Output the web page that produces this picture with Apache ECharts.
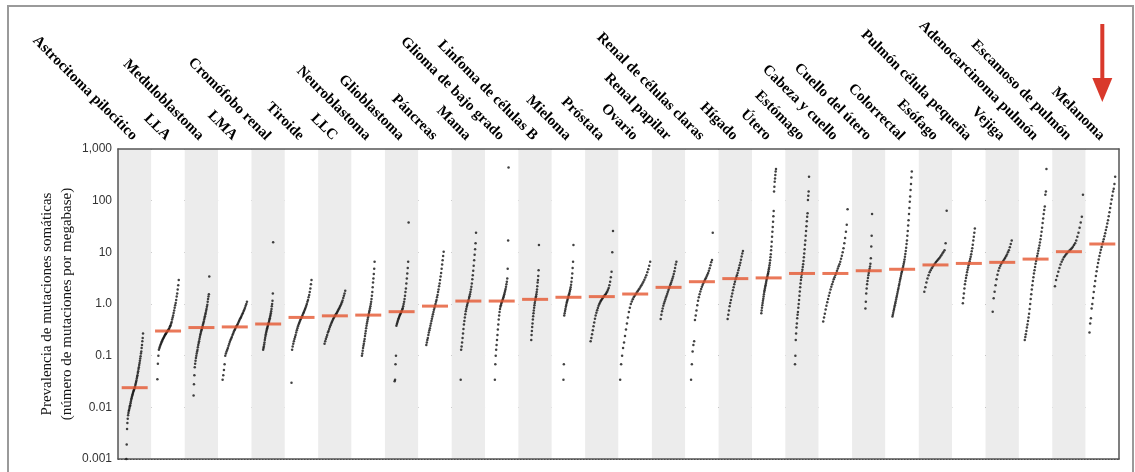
<!DOCTYPE html>
<html><head><meta charset="utf-8">
<script src="https://cdn.jsdelivr.net/npm/echarts@6/dist/echarts.min.js"></script>
<style>html,body{margin:0;padding:0;background:#fff}#c{width:1135px;height:472px}</style>
</head><body><div id="c"></div>
<script>
// ---------- DATA ----------
const categories = [
  'Astrocitoma pilocítico','LLA','Meduloblastoma','LMA','Cromófobo renal','Tiroide','LLC',
  'Neuroblastoma','Glioblastoma','Páncreas','Mama','Glioma de bajo grado','Linfoma de células B',
  'Mieloma','Próstata','Ovario','Renal papilar','Renal de células claras','Hígado','Útero',
  'Estómago','Cabeza y cuello','Cuello del útero','Colorrectal','Esófago','Pulmón célula pequeña',
  'Vejiga','Adenocarcinoma pulmón','Escamoso de pulmón','Melanoma'
];
const yTickValues = [0.001, 0.01, 0.1, 1, 10, 100, 1000];
const yTickLabels = ['0.001', '0.01', '0.1', '1.0', '10', '100', '1,000'];
const yAxisTitle = 'Prevalencia de mutaciones somáticas\n(número de mutaciones por megabase)';

const medians = [0.024, 0.30, 0.35, 0.36, 0.41, 0.55, 0.59, 0.61, 0.71, 0.91,
  1.14, 1.14, 1.23, 1.35, 1.39, 1.56, 2.1, 2.7, 3.1, 3.2,
  3.9, 3.9, 4.4, 4.7, 5.7, 6.1, 6.4, 7.4, 10.3, 14.5];

const astrocitoma = [0.001,0.0019,0.0038,0.005,0.006,0.007,0.0078,0.0085,0.009,0.0097,0.0105,0.011,0.012,0.013,0.014,0.015,0.016,0.017,0.018,0.019,0.02,0.021,0.022,0.023,0.024,0.025,0.027,0.029,0.031,0.033,0.036,0.039,0.042,0.046,0.05,0.055,0.06,0.066,0.072,0.08,0.088,0.097,0.11,0.12,0.14,0.16,0.19,0.22,0.27];
const lla = [0.035,0.07,0.1,0.13,0.14,0.15,0.16,0.17,0.18,0.19,0.2,0.21,0.22,0.23,0.24,0.25,0.26,0.27,0.28,0.29,0.3,0.31,0.32,0.33,0.35,0.37,0.39,0.42,0.45,0.5,0.55,0.6,0.67,0.75,0.85,0.95,1.05,1.2,1.4,1.6,1.9,2.3,2.9];
const meduloblastoma = [0.017,0.028,0.042,0.06,0.07,0.08,0.09,0.1,0.11,0.12,0.13,0.145,0.16,0.175,0.19,0.21,0.23,0.25,0.27,0.29,0.31,0.33,0.35,0.37,0.4,0.43,0.46,0.5,0.54,0.58,0.63,0.68,0.74,0.8,0.88,0.97,1.1,1.25,1.4,1.55,3.4];
const lma = [0.034,0.042,0.053,0.068,0.1,0.11,0.12,0.13,0.14,0.155,0.17,0.185,0.2,0.215,0.23,0.25,0.27,0.29,0.31,0.33,0.35,0.37,0.39,0.41,0.44,0.47,0.5,0.53,0.56,0.6,0.64,0.68,0.73,0.78,0.85,0.93,1.0,1.1];
const cromofobo = [0.13,0.14,0.15,0.165,0.18,0.2,0.22,0.24,0.26,0.28,0.3,0.32,0.34,0.36,0.38,0.4,0.42,0.44,0.47,0.5,0.53,0.57,0.61,0.66,0.72,0.8,0.9,1.0,1.15,1.6,15.6];
const tiroide = [0.03,0.13,0.15,0.17,0.19,0.21,0.23,0.25,0.28,0.31,0.34,0.37,0.4,0.43,0.46,0.49,0.52,0.55,0.58,0.62,0.66,0.7,0.75,0.8,0.86,0.93,1.0,1.1,1.2,1.35,1.5,1.7,2.0,2.4,2.9];
const llc = [0.17,0.19,0.21,0.23,0.25,0.28,0.3,0.33,0.36,0.39,0.42,0.45,0.48,0.51,0.54,0.57,0.6,0.63,0.66,0.7,0.74,0.78,0.83,0.88,0.94,1.0,1.08,1.17,1.3,1.45,1.6,1.8];
const neuroblastoma = [0.1,0.11,0.125,0.14,0.155,0.17,0.19,0.21,0.24,0.27,0.3,0.34,0.38,0.42,0.46,0.5,0.55,0.6,0.65,0.7,0.76,0.83,0.9,1.0,1.1,1.25,1.45,1.7,2.1,2.6,3.1,3.8,4.8,6.6];
const glioblastoma = [0.032,0.034,0.068,0.1,0.38,0.41,0.44,0.47,0.5,0.53,0.56,0.59,0.62,0.65,0.68,0.71,0.74,0.78,0.83,0.9,1.0,1.1,1.25,1.45,1.7,2.0,2.5,3.1,3.9,5.0,6.6,38];
const pancreas = [0.16,0.18,0.2,0.22,0.25,0.28,0.31,0.34,0.38,0.42,0.47,0.52,0.57,0.63,0.7,0.77,0.85,0.93,1.0,1.1,1.2,1.35,1.5,1.7,1.9,2.2,2.5,2.9,3.4,4.0,4.8,5.8,7.0,8.5,10.3];
const mama = [0.034,0.13,0.15,0.18,0.22,0.27,0.33,0.4,0.47,0.55,0.63,0.72,0.8,0.88,0.96,1.04,1.12,1.2,1.3,1.42,1.55,1.7,1.9,2.15,2.5,3.0,3.6,4.4,5.5,7.0,9.0,11.5,15,24];
const glioma = [0.034,0.068,0.1,0.13,0.16,0.2,0.25,0.32,0.4,0.5,0.6,0.7,0.8,0.88,0.95,1.02,1.08,1.14,1.2,1.27,1.35,1.45,1.55,1.67,1.8,1.95,2.15,2.4,2.7,3.1,4.8,17,440];
const linfomaB = [0.2,0.25,0.3,0.36,0.42,0.5,0.58,0.66,0.75,0.85,0.95,1.05,1.15,1.23,1.32,1.42,1.55,1.7,1.9,2.2,2.6,2.9,3.5,4.5,13.8];
const mieloma = [0.034,0.068,0.6,0.66,0.73,0.8,0.88,0.96,1.04,1.12,1.2,1.28,1.36,1.45,1.55,1.65,1.78,1.92,2.1,2.35,2.7,3.2,3.9,5.0,6.6,13.8];
const prostata = [0.19,0.22,0.26,0.31,0.37,0.44,0.52,0.6,0.68,0.76,0.84,0.92,1.0,1.07,1.14,1.2,1.26,1.32,1.38,1.44,1.5,1.57,1.65,1.75,1.88,2.05,2.3,2.7,3.3,4.2,10,26];
const ovario = [0.034,0.068,0.1,0.14,0.18,0.24,0.32,0.42,0.55,0.7,0.85,1.0,1.12,1.24,1.35,1.45,1.55,1.65,1.76,1.88,2.0,2.15,2.3,2.5,2.7,2.95,3.25,3.6,4.1,4.7,5.5,6.6];
const renalPapilar = [0.51,0.62,0.72,0.82,0.92,1.02,1.12,1.22,1.33,1.45,1.58,1.72,1.88,2.05,2.2,2.4,2.6,2.85,3.1,3.4,3.8,4.3,5.0,5.8,6.6];
const renalClaras = [0.034,0.068,0.12,0.16,0.19,0.49,0.6,0.75,0.95,1.15,1.35,1.55,1.75,1.95,2.15,2.35,2.55,2.75,2.95,3.15,3.4,3.7,4.0,4.4,4.9,5.6,6.4,7.1,24];
const higado = [0.51,0.62,0.75,0.9,1.05,1.2,1.4,1.6,1.85,2.1,2.4,2.7,3.0,3.3,3.6,4.0,4.5,5.0,5.6,6.3,7.2,8.3,9.5,10.6];
const utero = [0.66,0.75,0.85,0.95,1.05,1.15,1.27,1.4,1.55,1.7,1.85,2.0,2.15,2.3,2.5,2.7,2.9,3.1,3.3,3.5,3.75,4.0,4.3,4.7,5.1,5.6,6.2,7.0,8.0,9.2,11,13,16,20,25,31,39,50,63,150,186,233,270,314,365,410];
const estomago = [0.068,0.1,0.2,0.27,0.35,0.42,0.53,0.62,0.7,0.85,1.0,1.2,1.45,1.75,2.1,2.5,2.9,3.3,3.7,4.1,4.6,5.2,5.9,6.8,8.0,9.5,11.5,14,17,21,26,32,40,49,57,103,125,150,290];
const cabezaCuello = [0.46,0.55,0.65,0.78,0.92,1.08,1.25,1.45,1.65,1.9,2.15,2.4,2.7,3.0,3.3,3.65,4.0,4.4,4.85,5.35,5.9,6.6,7.5,8.6,10,12,15,19,25,34,68];
const cuelloUtero = [0.82,1.1,1.6,2.0,2.4,2.8,3.2,3.6,4.0,4.4,4.8,5.3,6.0,7.7,13,21,55];
const colorrectal = [0.57,0.62,0.68,0.74,0.8,0.87,0.95,1.03,1.12,1.22,1.33,1.45,1.58,1.72,1.88,2.05,2.25,2.45,2.7,2.95,3.2,3.5,3.8,4.1,4.4,4.7,5.1,5.5,6.0,6.6,7.3,8.2,9.3,10.6,12.3,14.5,17,21,26,33,42,55,72,95,120,160,210,280,365];
const esofago = [1.73,2.1,2.6,3.1,3.6,4.1,4.5,4.9,5.3,5.7,6.1,6.5,6.9,7.3,7.7,8.2,8.8,9.5,10.2,11,15,64];
const pulmonPequena = [1.03,1.3,1.6,2.0,2.4,2.8,3.2,3.6,4.1,4.6,5.1,5.6,6.1,6.7,7.4,8.2,9.2,10.5,12,14,17,20,24,29];
const vejiga = [0.71,1.29,1.73,2.3,3.0,3.7,4.4,5.0,5.5,6.0,6.4,6.8,7.3,7.8,8.4,9.1,10,11,12.5,14.5,17];
const adenoPulmon = [0.2,0.23,0.26,0.3,0.35,0.4,0.47,0.55,0.65,0.8,1.0,1.25,1.55,1.9,2.3,2.8,3.3,3.9,4.5,5.2,6.0,6.8,7.6,8.5,9.5,10.7,12,13.5,15.5,18,21,25,30,37,45,55,66,77,130,150,410];
const escamosoPulmon = [2.2,2.9,3.5,4.2,5.0,5.8,6.6,7.3,8.0,8.6,9.2,9.8,10.3,10.8,11.4,12,12.8,13.8,15,17,20,24,30,38,49,130];
const melanoma = [0.28,0.42,0.53,0.82,1.0,1.3,1.7,2.2,2.8,3.5,4.3,5.2,6.2,7.3,8.5,9.8,11.2,12.7,14.3,16,18,20.5,23.5,27,31,36,42,50,60,72,87,105,125,150,170,210,290];

const samples = [astrocitoma, lla, meduloblastoma, lma, cromofobo, tiroide, llc, neuroblastoma,
  glioblastoma, pancreas, mama, glioma, linfomaB, mieloma, prostata, ovario, renalPapilar,
  renalClaras, higado, utero, estomago, cabezaCuello, cuelloUtero, colorrectal, esofago,
  pulmonPequena, vejiga, adenoPulmon, escamosoPulmon, melanoma];

// ---------- LAYOUT (horizontal width of each dot cloud, in column units) ----------
const cloudWidth = [0.5,0.64,0.47,0.73,0.3,0.6,0.62,0.38,0.42,0.52,0.46,0.41,0.23,0.3,0.67,
  0.9,0.47,0.65,0.46,0.44,0.42,0.73,0.2,0.58,0.67,0.36,0.57,0.65,0.84,0.77];

// ---------- BUILD ----------
const dotData = [];
samples.forEach((vals, i) => {
  const sorted = vals.slice().sort((a, b) => a - b);
  const n = sorted.length;
  const w = cloudWidth[i];
  sorted.forEach((v, j) => {
    const x = i - w / 2 + (n > 1 ? w * j / (n - 1) : w / 2);
    dotData.push([x, v]);
  });
});
const medianData = medians.map((m, i) => [i, m]);

const chart = echarts.init(document.getElementById('c'), null, {renderer: 'canvas'});
const serif = '"Liberation Serif","DejaVu Serif",serif';
const sans = '"Liberation Sans","DejaVu Sans",sans-serif';

function tickLabel(v) {
  const k = Math.round(Math.log10(v));
  const idx = yTickValues.findIndex(t => Math.round(Math.log10(t)) === k);
  return idx >= 0 ? yTickLabels[idx] : '';
}

chart.setOption({
  animation: false,
  backgroundColor: '#fff',
  grid: {left: 118, right: 16, top: 149, bottom: 13, containLabel: false},
  xAxis: [
    {
      type: 'category', data: categories, position: 'top', boundaryGap: true,
      axisLine: {show: true, lineStyle: {color: '#555', width: 1.5}},
      axisTick: {show: false},
      axisLabel: {interval: 0, rotate: 45, margin: 11, fontFamily: serif, fontSize: 15, fontWeight: 'bold', color: '#000'},
      splitLine: {show: false},
      splitArea: {show: true, interval: 0, areaStyle: {color: ['#ececec', '#ffffff']}}
    },
    {
      type: 'value', min: -0.5, max: 29.5, position: 'bottom',
      axisLine: {show: true, onZero: false, lineStyle: {color: '#555', width: 1.5}},
      axisTick: {show: false}, axisLabel: {show: false}, splitLine: {show: false}
    }
  ],
  yAxis: [
    {
      type: 'log', logBase: 10, min: 0.001, max: 1000, position: 'left',
      name: yAxisTitle, nameLocation: 'middle', nameGap: 41, nameMoveOverlap: false,
      nameTextStyle: {fontFamily: serif, fontSize: 15, lineHeight: 20, color: '#111'},
      axisLine: {show: true, onZero: false, lineStyle: {color: '#555', width: 1.5}},
      axisTick: {show: false},
      axisLabel: {formatter: tickLabel, fontFamily: sans, fontSize: 12, color: '#333', margin: 6},
      splitLine: {show: true, lineStyle: {color: '#333', width: 1, type: [1.5, 1.5]}}
    },
    {
      type: 'log', logBase: 10, min: 0.001, max: 1000, position: 'right',
      axisLine: {show: true, onZero: false, lineStyle: {color: '#555', width: 1.5}},
      axisTick: {show: false}, axisLabel: {show: false}, splitLine: {show: false}
    }
  ],
  series: [
    {
      type: 'scatter', xAxisIndex: 1, yAxisIndex: 0, data: dotData,
      symbol: 'circle', symbolSize: 2.5, itemStyle: {color: '#111'}, z: 3, silent: true
    },
    {
      type: 'scatter', xAxisIndex: 1, yAxisIndex: 0, data: medianData,
      symbol: 'rect', symbolSize: [26, 3], itemStyle: {color: '#e5562f'}, z: 4, silent: true
    }
  ]
});

// annotation: red arrow above the last column, and outer frame
const ax = chart.convertToPixel({xAxisIndex: 1}, categories.length - 1);
chart.setOption({
  graphic: [
    {type: 'rect', shape: {x: 8, y: 6, width: 1125, height: 480}, style: {fill: 'none', stroke: '#9a9a9a', lineWidth: 2}, silent: true},
    {type: 'rect', shape: {x: ax - 2, y: 24, width: 4, height: 58}, style: {fill: '#d9392b'}, silent: true},
    {type: 'polygon', shape: {points: [[ax - 10, 78], [ax + 10, 78], [ax, 102]]}, style: {fill: '#d9392b'}, silent: true}
  ]
});
</script>
</body></html>
